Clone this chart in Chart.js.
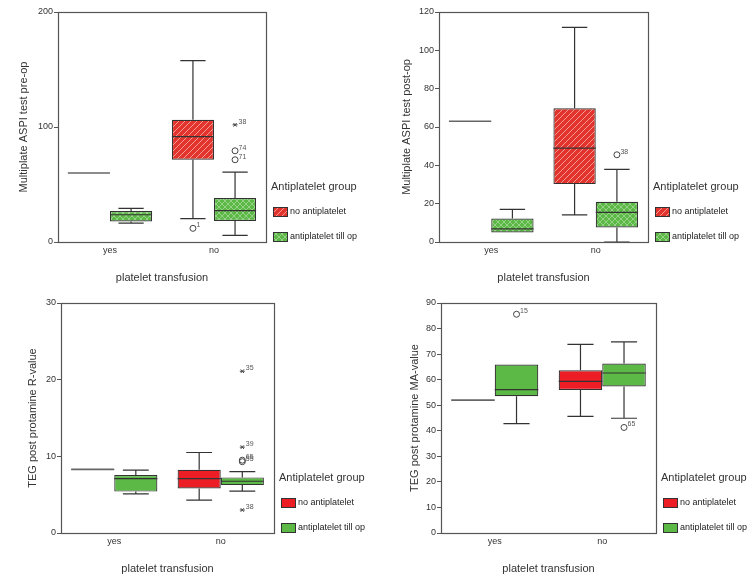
<!DOCTYPE html>
<html><head><meta charset="utf-8">
<script src="https://cdn.jsdelivr.net/npm/chart.js@4/dist/chart.umd.min.js"></script>
<style>
body{margin:0;background:#fff;}
#wrap{position:relative;width:756px;height:582px;background:#fff;}
.p{position:absolute;width:378px;height:291px;}
canvas{display:block;}
</style></head><body>
<div id="wrap">
<div class="p" style="left:0;top:0"><canvas id="c1" width="378" height="291"></canvas></div>
<div class="p" style="left:378px;top:0"><canvas id="c2" width="378" height="291"></canvas></div>
<div class="p" style="left:0;top:291px"><canvas id="c3" width="378" height="291"></canvas></div>
<div class="p" style="left:378px;top:291px"><canvas id="c4" width="378" height="291"></canvas></div>
</div>
<script>
// ---------- data ----------
const categories = ['yes', 'no'];
const groupNames = ['no antiplatelet', 'antiplatelet till op'];
const legendTitle = 'Antiplatelet group';
const xTitle = 'platelet transfusion';
const yTitles = ['Multiplate ASPI test pre-op', 'Multiplate ASPI test post-op', 'TEG post protamine R-value', 'TEG post protamine MA-value'];
const yMaxes = [200, 120, 30, 90];
const ySteps = [100, 20, 10, 10];

// [lower whisker, Q1, median, Q3, upper whisker] for "yes", "no"
const aspiPreNoAntiplatelet = [[60, 60, 60, 60, 60], [20.3, 71.5, 91.7, 106.2, 157.7]];
const aspiPreAntiplatelet   = [[16.5, 17.9, 23.7, 26.9, 29.2], [5.8, 18.2, 27.2, 38.2, 60.8]];
// [category, group index, value, case label, marker]
const aspiPreOutliers = [['no', 0, 11.9, '1', 'o'], ['no', 1, 101.9, '38', '*'], ['no', 1, 79.3, '74', 'o'], ['no', 1, 71.5, '71', 'o']];

const aspiPostNoAntiplatelet = [[63, 63, 63, 63, 63], [14.2, 30.2, 49.0, 69.8, 112]];
const aspiPostAntiplatelet   = [[5.0, 5.0, 6.8, 12.2, 17.0], [0, 7.6, 15.5, 21.0, 37.9]];
const aspiPostOutliers = [['no', 1, 45.5, '38', 'o']];

const tegRNoAntiplatelet = [[8.3, 8.3, 8.3, 8.3, 8.3], [4.3, 5.8, 7.1, 8.25, 10.5]];
const tegRAntiplatelet   = [[5.1, 5.4, 7.1, 7.55, 8.2], [5.45, 6.25, 6.75, 7.25, 8.0]];
const tegROutliers = [['no', 1, 21.1, '35', '*'], ['no', 1, 11.2, '39', '*'], ['no', 1, 9.5, '65', 'o'], ['no', 1, 9.3, '55', 'o'], ['no', 1, 3.0, '38', '*']];

const tegMANoAntiplatelet = [[52, 52, 52, 52, 52], [45.6, 56.0, 59.3, 63.7, 73.8]];
const tegMAAntiplatelet   = [[42.8, 53.5, 56.1, 65.9, 65.9], [44.9, 57.3, 62.6, 66.3, 74.8]];
const tegMAOutliers = [['yes', 1, 85.6, '15', 'o'], ['no', 1, 41.3, '65', 'o']];

// ---------- styling ----------
const FONT = "'Liberation Sans', Arial, sans-serif";
const TXT = '#333';
const LINE = '#333';

function stripePattern(base) {
  const c = document.createElement('canvas'); c.width = 6; c.height = 6;
  const g = c.getContext('2d');
  g.fillStyle = base; g.fillRect(0, 0, 6, 6);
  g.strokeStyle = 'rgba(255,255,255,0.5)'; g.lineWidth = 1;
  g.beginPath();
  g.moveTo(-1, 7); g.lineTo(7, -1);
  g.moveTo(-1, 1); g.lineTo(1, -1);
  g.moveTo(5, 7); g.lineTo(7, 5);
  g.stroke();
  return g.createPattern(c, 'repeat');
}
function checkPattern(base) {
  const c = document.createElement('canvas'); c.width = 6; c.height = 6;
  const g = c.getContext('2d');
  g.fillStyle = base; g.fillRect(0, 0, 6, 6);
  g.strokeStyle = 'rgba(255,255,255,0.35)'; g.lineWidth = 1;
  g.beginPath();
  g.moveTo(0, 0); g.lineTo(6, 6);
  g.moveTo(6, 0); g.lineTo(0, 6);
  g.stroke();
  return g.createPattern(c, 'repeat');
}

const boxPlugin = {
  id: 'boxplot',
  afterDatasetsDraw(chart) {
    const ctx = chart.ctx, ys = chart.scales.y, xs = chart.scales.x;
    ctx.save();
    chart.data.datasets.forEach((ds, di) => {
      const meta = chart.getDatasetMeta(di);
      meta.data.forEach((bar, i) => {
        const s = ds.stats[i];
        const cx = bar.x, w = bar.width;
        const left = cx - w / 2, right = cx + w / 2;
        const cap = w * 0.3;
        const p = v => ys.getPixelForValue(v);
        if (s[1] === s[3] && s[0] === s[4]) {
          ctx.strokeStyle = '#666'; ctx.lineWidth = 1.6;
          ctx.beginPath(); ctx.moveTo(left, p(s[2])); ctx.lineTo(right, p(s[2])); ctx.stroke();
          return;
        }
        ctx.strokeStyle = LINE; ctx.lineWidth = 1.2;
        ctx.beginPath();
        if (s[4] > s[3]) {
          ctx.moveTo(cx, p(s[3])); ctx.lineTo(cx, p(s[4]));
          ctx.moveTo(cx - cap, p(s[4])); ctx.lineTo(cx + cap, p(s[4]));
        }
        if (s[0] < s[1]) {
          ctx.moveTo(cx, p(s[1])); ctx.lineTo(cx, p(s[0]));
          ctx.moveTo(cx - cap, p(s[0])); ctx.lineTo(cx + cap, p(s[0]));
        }
        ctx.moveTo(left, p(s[2])); ctx.lineTo(right, p(s[2]));
        ctx.stroke();
      });
    });
    // outliers
    const outs = chart.config.options.plugins.boxplot.outliers;
    outs.forEach(o => {
      const ci = xs.getLabels().indexOf(o[0]);
      const bar = chart.getDatasetMeta(o[1]).data[ci];
      const x = bar.x, y = ys.getPixelForValue(o[2]);
      ctx.strokeStyle = '#444'; ctx.fillStyle = '#444'; ctx.lineWidth = 1;
      if (o[4] === 'o') {
        ctx.beginPath(); ctx.arc(x, y, 3, 0, Math.PI * 2); ctx.stroke();
      } else {
        ctx.beginPath();
        ctx.moveTo(x - 2.5, y); ctx.lineTo(x + 2.5, y);
        ctx.moveTo(x - 1.6, y - 1.8); ctx.lineTo(x + 1.6, y + 1.8);
        ctx.moveTo(x - 1.6, y + 1.8); ctx.lineTo(x + 1.6, y - 1.8);
        ctx.stroke();
      }
      ctx.font = '7px ' + FONT; ctx.fillStyle = '#555';
      ctx.textAlign = 'left'; ctx.textBaseline = 'middle';
      ctx.fillText(o[3], x + 3.5, y - 3);
    });
    ctx.restore();
  },
  afterDraw(chart) {
    const ctx = chart.ctx, a = chart.chartArea;
    ctx.save();
    ctx.strokeStyle = '#555'; ctx.lineWidth = 1.2;
    ctx.strokeRect(Math.round(a.left) + 0.5, Math.round(a.top) + 0.5, Math.round(a.right - a.left), Math.round(a.bottom - a.top));
    // legend
    const lx = a.right, by = a.bottom;
    ctx.fillStyle = TXT; ctx.textBaseline = 'middle'; ctx.textAlign = 'left';
    ctx.font = '11px ' + FONT;
    ctx.fillText(legendTitle, lx + 5, by - 55);
    ctx.font = '9px ' + FONT;
    chart.data.datasets.forEach((ds, i) => {
      const cy = by - 30 + i * 25;
      ctx.fillStyle = ds.backgroundColor;
      ctx.fillRect(lx + 7, cy - 5, 15, 10);
      ctx.strokeStyle = LINE; ctx.lineWidth = 1;
      ctx.strokeRect(lx + 7.5, cy - 4.5, 14, 9);
      ctx.fillStyle = '#222';
      ctx.fillText(ds.label, lx + 24, cy);
    });
    ctx.restore();
  }
};

function makeChart(id, idx, noAP, ap, outliers, hatched, L, R, titlePad) {
  const red = hatched ? stripePattern('#e2342c') : '#ec1d24';
  const green = hatched ? checkPattern('#5cb946') : '#5cb946';
  return new Chart(document.getElementById(id), {
    type: 'bar',
    data: {
      labels: categories,
      datasets: [
        { label: groupNames[0], data: noAP.map(s => [s[1], s[3]]), stats: noAP, backgroundColor: red, borderColor: LINE, borderWidth: 1.2, borderSkipped: false, categoryPercentage: 0.81, barPercentage: 1 },
        { label: groupNames[1], data: ap.map(s => [s[1], s[3]]), stats: ap, backgroundColor: green, borderColor: LINE, borderWidth: 1.2, borderSkipped: false, categoryPercentage: 0.81, barPercentage: 1 }
      ]
    },
    options: {
      responsive: false, animation: false, devicePixelRatio: 1, events: [],
      layout: { padding: { top: 12, left: 0, right: 378 - R, bottom: 0 } },
      plugins: { legend: { display: false }, tooltip: { enabled: false }, boxplot: { outliers } },
      scales: {
        x: {
          type: 'category', offset: true,
          grid: { display: false, drawTicks: false },
          border: { display: true, color: '#555' },
          ticks: { font: { family: FONT, size: 9 }, color: TXT, padding: 3 },
          title: { display: true, text: xTitle, font: { family: FONT, size: 11 }, color: TXT, padding: { top: 0, bottom: 6 } },
          afterFit: s => { s.height = 49; }
        },
        y: {
          min: 0, max: yMaxes[idx],
          ticks: { stepSize: ySteps[idx], font: { family: FONT, size: 9 }, color: TXT, padding: 1 },
          grid: { drawOnChartArea: false, drawTicks: true, tickLength: 4, color: '#555' },
          border: { display: true, color: '#555' },
          title: { display: true, text: yTitles[idx], font: { family: FONT, size: 11 }, color: TXT, padding: { top: titlePad, bottom: 0 } },
          afterFit: s => { s.width = L; }
        }
      }
    },
    plugins: [boxPlugin]
  });
}

makeChart('c1', 0, aspiPreNoAntiplatelet, aspiPreAntiplatelet, aspiPreOutliers, true, 58, 266, 17);
makeChart('c2', 1, aspiPostNoAntiplatelet, aspiPostAntiplatelet, aspiPostOutliers, true, 61, 270, 22);
makeChart('c3', 2, tegRNoAntiplatelet, tegRAntiplatelet, tegROutliers, false, 61, 274, 26);
makeChart('c4', 3, tegMANoAntiplatelet, tegMAAntiplatelet, tegMAOutliers, false, 63, 278, 30);
</script>
</body></html>
